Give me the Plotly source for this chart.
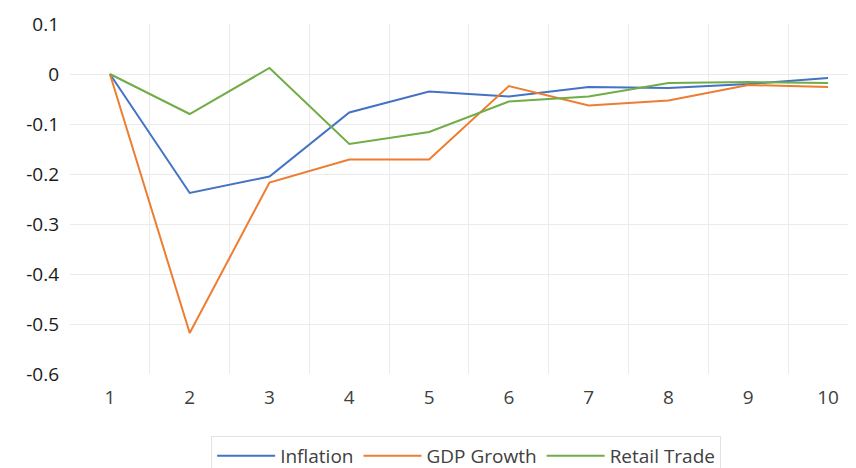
import plotly.graph_objects as go

periods = [1, 2, 3, 4, 5, 6, 7, 8, 9, 10]
inflation = [0, -0.238, -0.205, -0.077, -0.035, -0.045, -0.026, -0.028, -0.020, -0.008]
gdp_growth = [0, -0.518, -0.217, -0.171, -0.171, -0.024, -0.063, -0.053, -0.022, -0.026]
retail_trade = [0, -0.080, 0.012, -0.140, -0.116, -0.055, -0.045, -0.018, -0.016, -0.018]
y_ticks = [0.1, 0, -0.1, -0.2, -0.3, -0.4, -0.5, -0.6]
y_tick_text = ["0.1", "0", "-0.1", "-0.2", "-0.3", "-0.4", "-0.5", "-0.6"]

fig = go.Figure()
for name, vals, color in [
    ("Inflation", inflation, "#4472C4"),
    ("GDP Growth", gdp_growth, "#ED7D31"),
    ("Retail Trade", retail_trade, "#70AD47"),
]:
    fig.add_trace(go.Scatter(x=periods, y=vals, mode="lines", name=name,
                             line=dict(color=color, width=2)))

# page body has an 8px margin, so the figure is offset by 8px
fig.update_layout(
    width=848, height=468,
    margin=dict(l=62, r=0, t=16, b=96),
    paper_bgcolor="white", plot_bgcolor="white",
    font=dict(family="Open Sans, Segoe UI, sans-serif", color="#404040"),
    showlegend=True,
    legend=dict(orientation="h", x=0.504, xanchor="center", y=-0.177, yanchor="top",
                bordercolor="#e3e3e3", borderwidth=1,
                font=dict(size=19, color="#404040"), itemwidth=58,
                tracegroupgap=0),
    xaxis=dict(range=[0.5, 10.35], tickvals=periods, ticktext=[str(p) for p in periods],
               showgrid=False, zeroline=False, showline=False,
               tickfont=dict(size=19, color="#404040"), ticks="",
               ticklabelstandoff=10,
               minor=dict(tickvals=[1.5, 2.5, 3.5, 4.5, 5.5, 6.5, 7.5, 8.5, 9.5],
                          showgrid=True, gridcolor="#ebebeb", gridwidth=1, ticks="")),
    yaxis=dict(range=[-0.6, 0.1], tickvals=y_ticks, ticktext=y_tick_text,
               showgrid=True, gridcolor="#ebebeb", gridwidth=1,
               zeroline=False, showline=False,
               tickfont=dict(size=19, color="#1a1a1a"), ticks="",
               ticklabelstandoff=10),
)

fig.write_html("out.html")
